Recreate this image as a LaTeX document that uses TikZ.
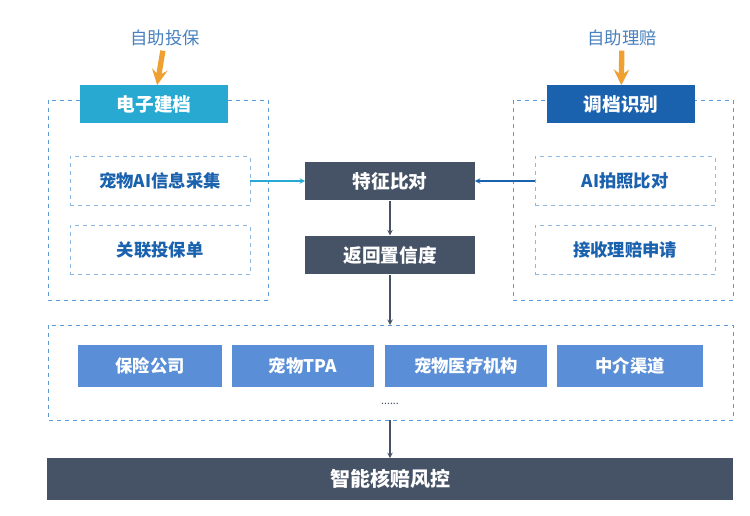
\documentclass[tikz,border=0pt]{standalone}
\usepackage{fontspec}
\setmainfont{Noto Sans CJK SC}
\usepackage{tikz}
\usetikzlibrary{positioning}
\definecolor{tealb}{HTML}{27A9D2}
\definecolor{deepb}{HTML}{1A62AE}
\definecolor{slate}{HTML}{465366}
\definecolor{midb}{HTML}{5A8FD8}
\definecolor{dashb}{HTML}{5B9BD5}
\definecolor{orng}{HTML}{F0A030}
\tikzset{
  headbox/.style={draw=none, text=white, font=\bfseries\fontsize{14}{16}\selectfont, minimum width=111pt, minimum height=28pt, inner sep=0pt},
  subbox/.style={draw=dashb!70, dashed, text=deepb, font=\bfseries\fontsize{13}{15}\selectfont, minimum width=135pt, minimum height=37pt, inner sep=0pt},
  midbox/.style={fill=slate, text=white, font=\bfseries\fontsize{14}{16}\selectfont, minimum width=127pt, minimum height=29pt, inner sep=0pt},
  chanbox/.style={fill=midb, text=white, font=\bfseries\fontsize{13}{15}\selectfont, minimum height=32pt, inner sep=0pt},
  frame/.style={draw=dashb, dashed},
  toptext/.style={text=deepb!80, font=\fontsize{13}{15}\selectfont},
}
\begin{document}
\begin{tikzpicture}[x=0.75pt,y=-0.75pt]
\useasboundingbox[fill=white] (0,0) rectangle (750,516);
% frames
\draw[frame] (48,100) rectangle (268,300);
\draw[frame] (513,100) rectangle (733,300);
\draw[frame] (48,325) rectangle (733,420);
% left column
\node[toptext] (inL) at (165,38) {自助投保};
\node[headbox, fill=tealb] (recL) at (154,104) {电子建档};
\draw[-stealth, orng, line width=4pt] (inL) -- (recL);
\node[subbox, fill=white] (collect) at (160,181) {宠物AI信息采集};
\node[subbox, fill=white] (policy) at (160,250) {关联投保单};
% right column
\node[toptext] (inR) at (622,38) {自助理赔};
\node[headbox, fill=deepb] (recR) at (621,104) {调档识别};
\draw[-stealth, orng, line width=4pt] (inR) -- (recR);
\node[subbox, fill=white] (photo) at (625,181) {AI拍照比对};
\node[subbox, fill=white] (claim) at (625,250) {接收理赔申请};
% middle
\node[midbox] (match) at (390,181) {特征比对};
\node[midbox] (conf) at (390,255) {返回置信度};
\draw[-stealth, tealb, thick] (collect) -- (match);
\draw[-stealth, deepb, thick] (photo) -- (match);
\draw[-stealth, slate, thick] (match) -- (conf);
\coordinate (chtop) at (390,325);
\coordinate (chbot) at (390,420);
\draw[-stealth, slate, thick] (conf) -- (chtop);
% channels
\node[chanbox, minimum width=108pt] (ins) at (150,366) {保险公司};
\node[chanbox, minimum width=107pt] (tpa) at (303,366) {宠物TPA};
\node[chanbox, minimum width=122pt] (hosp) at (466,366) {宠物医疗机构};
\node[chanbox, minimum width=110pt] (agent) at (630,366) {中介渠道};
\node[text=slate, font=\fontsize{8}{8}\selectfont] (dots) at (390,404) {......};
% bottom
\node[fill=slate, text=white, font=\bfseries\fontsize{15}{17}\selectfont, minimum width=514pt, minimum height=31pt, inner sep=0pt] (risk) at (390,479) {智能核赔风控};
\draw[-stealth, slate, thick] (chbot) -- (risk);
\end{tikzpicture}
\end{document}
